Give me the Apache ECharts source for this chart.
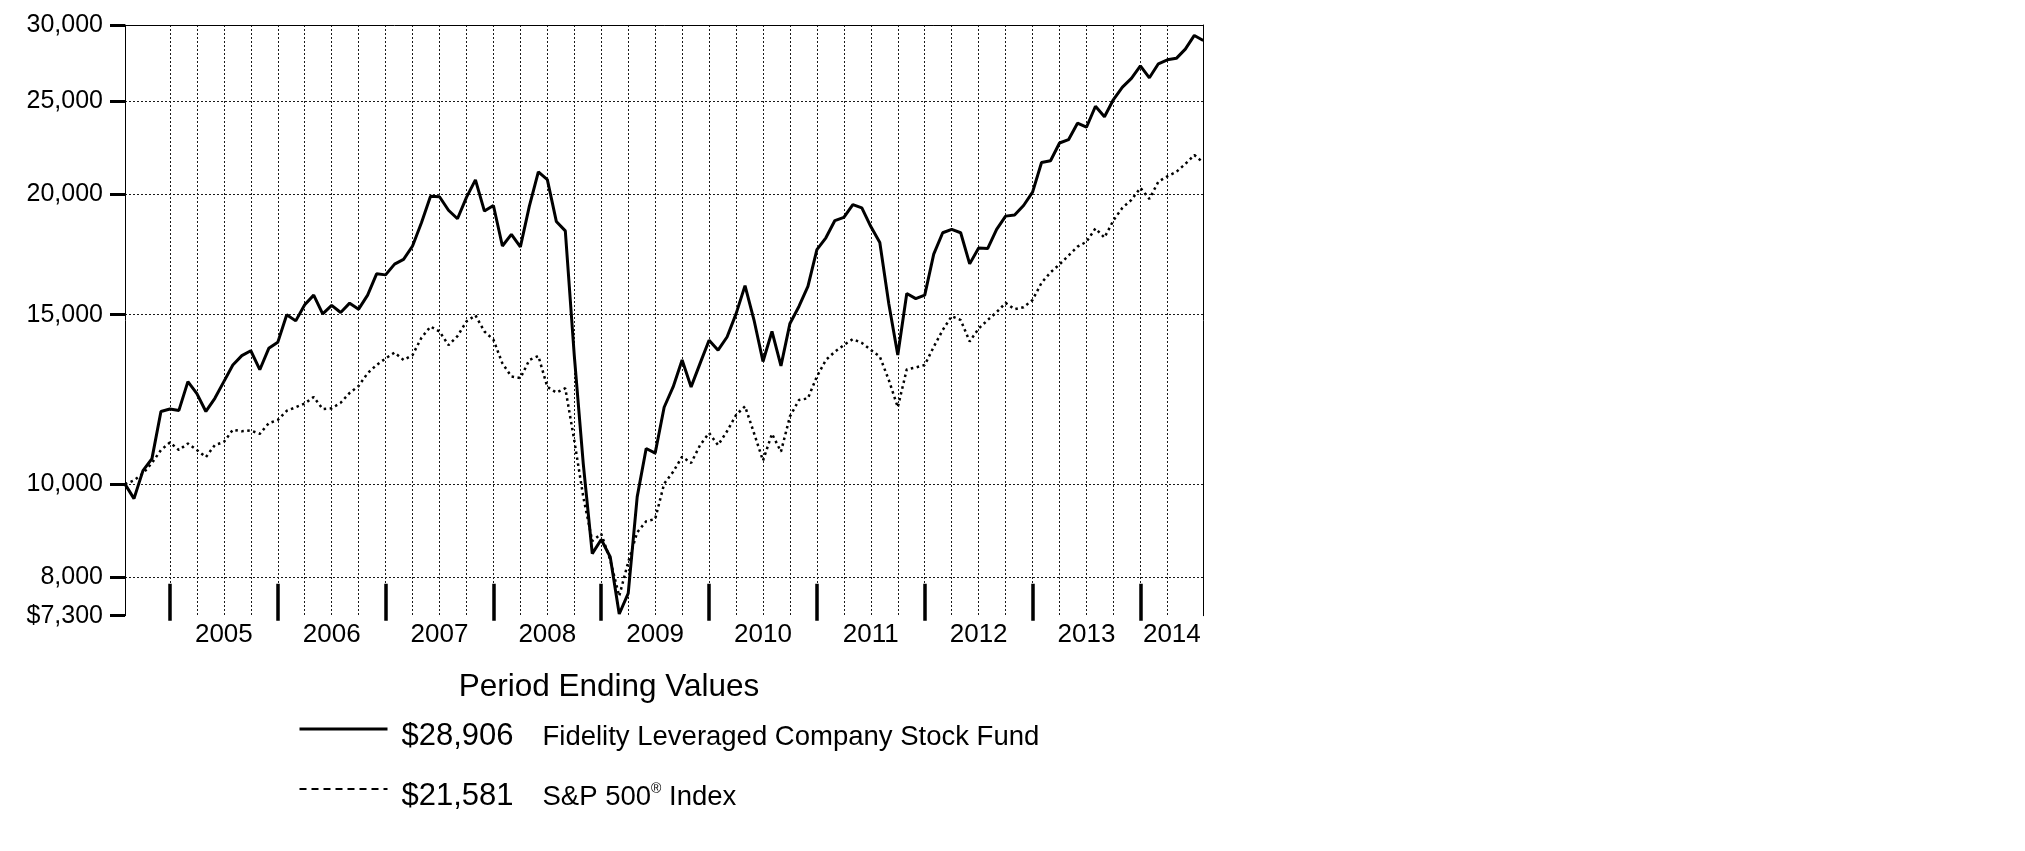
<!DOCTYPE html>
<html><head><meta charset="utf-8">
<script src="https://cdn.jsdelivr.net/npm/echarts@6/dist/echarts.min.js"></script>
<style>html,body{margin:0;padding:0;background:#fff}#c{width:2025px;height:851px}</style>
</head><body><div id="c"></div>
<script>
const startYear = 2004, startMonth = 7; // first point: July 2004
const fundName = 'Fidelity Leveraged Company Stock Fund';
const indexName = 'S&P 500® Index';
const fundValues = [
10000,9660,10330,10630,11900,11970,11930,12780,12420,11900,12280,12780,
13300,13600,13760,13150,13840,14040,15000,14780,15360,15720,15030,15340,
15080,15420,15200,15720,16540,16500,16930,17120,17680,18700,19910,19890,
19260,18870,19860,20710,19220,19480,17680,18180,17640,19450,21110,20720,
18750,18330,13600,10500,8470,8760,8400,7330,7700,9700,10890,10770,
12020,12620,13460,12620,13350,14110,13780,14220,15030,16080,14810,13410,
14410,13270,14690,15300,16050,17530,18030,18790,18930,19520,19370,18520,
17830,15400,13620,15780,15590,15720,17340,18250,18400,18250,16940,17600,
17570,18400,18990,19040,19480,20110,21590,21680,22620,22800,23720,23490,
24700,24090,25100,25860,26400,27200,26440,27340,27600,27700,28320,29260,
28906];
const indexValues = [
10000,10090,10260,10520,10850,11050,10850,11020,10850,10670,10980,11060,
11390,11350,11370,11280,11570,11660,11920,12020,12130,12320,11970,11990,
12150,12440,12650,13040,13300,13510,13700,13460,13620,14200,14580,14410,
13950,14250,14760,14980,14410,14130,13350,12940,12890,13460,13590,12620,
12450,12580,11100,9700,8730,8880,8340,7650,8300,8910,9150,9200,
10010,10300,10680,10520,10980,11300,10980,11350,11800,12050,11300,10580,
11280,10810,11760,12230,12280,12940,13460,13730,13950,14150,14020,13790,
13570,12830,12020,13160,13220,13300,13890,14460,14950,14810,14070,14510,
14810,15090,15430,15200,15270,15540,16190,16600,16920,17280,17650,17860,
18440,18040,18800,19370,19740,20320,19790,20620,20890,21110,21520,21980,
21581];
const yTickValues = [7300, 8000, 10000, 15000, 20000, 25000, 30000];
const yTickLabels = ['$7,300', '8,000', '10,000', '15,000', '20,000', '25,000', '30,000'];
const yearLabels = ['2005','2006','2007','2008','2009','2010','2011','2012','2013','2014'];

// month categories
const months = [];
for (let i = 0; i < fundValues.length; i++) {
  const m = startMonth - 1 + i;
  months.push((startYear + Math.floor(m / 12)) + '-' + String(m % 12 + 1).padStart(2, '0'));
}
const monthOf = i => parseInt(months[i].slice(5), 10);
const lastIdx = months.length - 1;
const yearMids = yearLabels.map(y => {
  const a = months.indexOf((+y - 1) + '-12');
  let b = months.indexOf(y + '-12');
  if (b < 0) b = lastIdx;
  return (a + b) / 2;
});
const quarterIdx = months.map((m, i) => i).filter(i => i > 0 && i < lastIdx && monthOf(i) % 3 === 0);
const L = v => Math.log10(v);
const yTickLogs = yTickValues.map(L);

const FONT = "'Liberation Sans', Arial, Helvetica, sans-serif";
const GRID_LINE = {color: '#1a1a1a', width: 1, type: [2, 2]};
const fmtMoney = v => '$' + v.toLocaleString('en-US');
const nearest = (arr, v) => {
  let k = 0, best = Infinity;
  arr.forEach((m, j) => { if (Math.abs(m - v) < best) { best = Math.abs(m - v); k = j; } });
  return k;
};

const chart = echarts.init(document.getElementById('c'), null, {renderer: 'canvas'});
chart.setOption({
  animation: false,
  backgroundColor: '#fff',
  textStyle: {fontFamily: FONT},
  title: {
    text: 'Period Ending Values', left: 604, textAlign: 'center', top: 666,
    textStyle: {fontSize: 31.5, fontWeight: 'normal', color: '#000', fontFamily: FONT}
  },
  legend: {
    orient: 'vertical', left: 293, top: 715.5, itemWidth: 88, itemHeight: 14, itemGap: 29,
    selectedMode: false,
    data: [
      {name: fundName, lineStyle: {color: '#000', width: 3, type: 'solid'}, itemStyle: {opacity: 0}},
      {name: indexName, lineStyle: {color: '#000', width: 2, type: [7, 5]}, itemStyle: {opacity: 0}}
    ],
    formatter: name => {
      const vals = name === fundName ? fundValues : indexValues;
      const v = fmtMoney(vals[vals.length - 1]);
      const nm = name.split('®').join('}{sup|®}{n|');
      return '{s| }{v|' + v + '}{n|' + nm + '}';
    },
    textStyle: {
      color: '#000', fontFamily: FONT,
      rich: {
        s: {width: 9, fontSize: 27, padding: [14, 0, 0, 0], verticalAlign: 'bottom'},
        v: {fontSize: 31, width: 141, color: '#000', fontFamily: FONT, verticalAlign: 'bottom', padding: [14, 0, 0, 0]},
        n: {fontSize: 27.5, color: '#000', fontFamily: FONT, verticalAlign: 'bottom', padding: [14, 0, 0, 0]},
        sup: {fontSize: 14, color: '#000', fontFamily: FONT, verticalAlign: 'top', padding: [16, 0, 0, 0]}
      }
    }
  },
  grid: {left: 125, top: 25, width: 1078.3, height: 590.7, containLabel: false, outerBoundsMode: 'none'},
  xAxis: [
    {
      type: 'category', data: months, boundaryGap: false, position: 'bottom', offset: 5,
      axisLine: {show: false, onZero: false},
      axisTick: {show: true, inside: true, length: 37, interval: i => monthOf(i) === 12,
                 lineStyle: {color: '#000', width: 3.5}},
      axisLabel: {show: false},
      splitLine: {show: false}
    },
    {
      type: 'value', min: 0, max: lastIdx, position: 'bottom',
      axisLine: {show: false, onZero: false}, axisTick: {show: false}, splitLine: {show: false},
      axisLabel: {
        show: true, customValues: yearMids, margin: 6, fontSize: 26, color: '#000', fontFamily: FONT,
        formatter: v => yearLabels[nearest(yearMids, v)]
      }
    },
    {
      // top border + quarterly vertical grid lines
      type: 'value', min: 0, max: lastIdx, position: 'top',
      axisLine: {show: true, onZero: false, lineStyle: {color: '#000', width: 1}},
      axisTick: {show: true, length: 0, customValues: quarterIdx, lineStyle: {width: 0}},
      axisLabel: {show: false, customValues: quarterIdx},
      splitLine: {show: true, showMinLine: false, showMaxLine: false, lineStyle: GRID_LINE}
    }
  ],
  yAxis: [
    {
      type: 'log', logBase: 10, min: 7300, max: 30000, position: 'right',
      axisLine: {show: true, onZero: false, lineStyle: {color: '#000', width: 1}},
      axisTick: {show: false}, axisLabel: {show: false}, splitLine: {show: false}
    },
    {
      type: 'value', min: yTickLogs[0], max: yTickLogs[yTickLogs.length - 1], position: 'left',
      axisLine: {show: true, onZero: false, lineStyle: {color: '#000', width: 1}},
      axisTick: {show: true, customValues: yTickLogs, length: 15, lineStyle: {color: '#000', width: 3}},
      axisLabel: {
        show: true, customValues: yTickLogs, margin: 22, fontSize: 25, color: '#000', fontFamily: FONT,
        formatter: v => yTickLabels[nearest(yTickLogs, v)]
      },
      splitLine: {show: true, showMinLine: false, showMaxLine: false, lineStyle: GRID_LINE}
    }
  ],
  series: [
    {
      name: fundName, type: 'line', xAxisIndex: 0, yAxisIndex: 0, data: fundValues,
      symbol: 'none', z: 3, lineStyle: {color: '#000', width: 3}, itemStyle: {color: '#000'}
    },
    {
      name: indexName, type: 'line', xAxisIndex: 0, yAxisIndex: 0, data: indexValues,
      symbol: 'none', z: 2, lineStyle: {color: '#000', width: 2.5, type: [2.5, 3.5]}, itemStyle: {color: '#000'}
    }
  ]
});
</script>
</body></html>
